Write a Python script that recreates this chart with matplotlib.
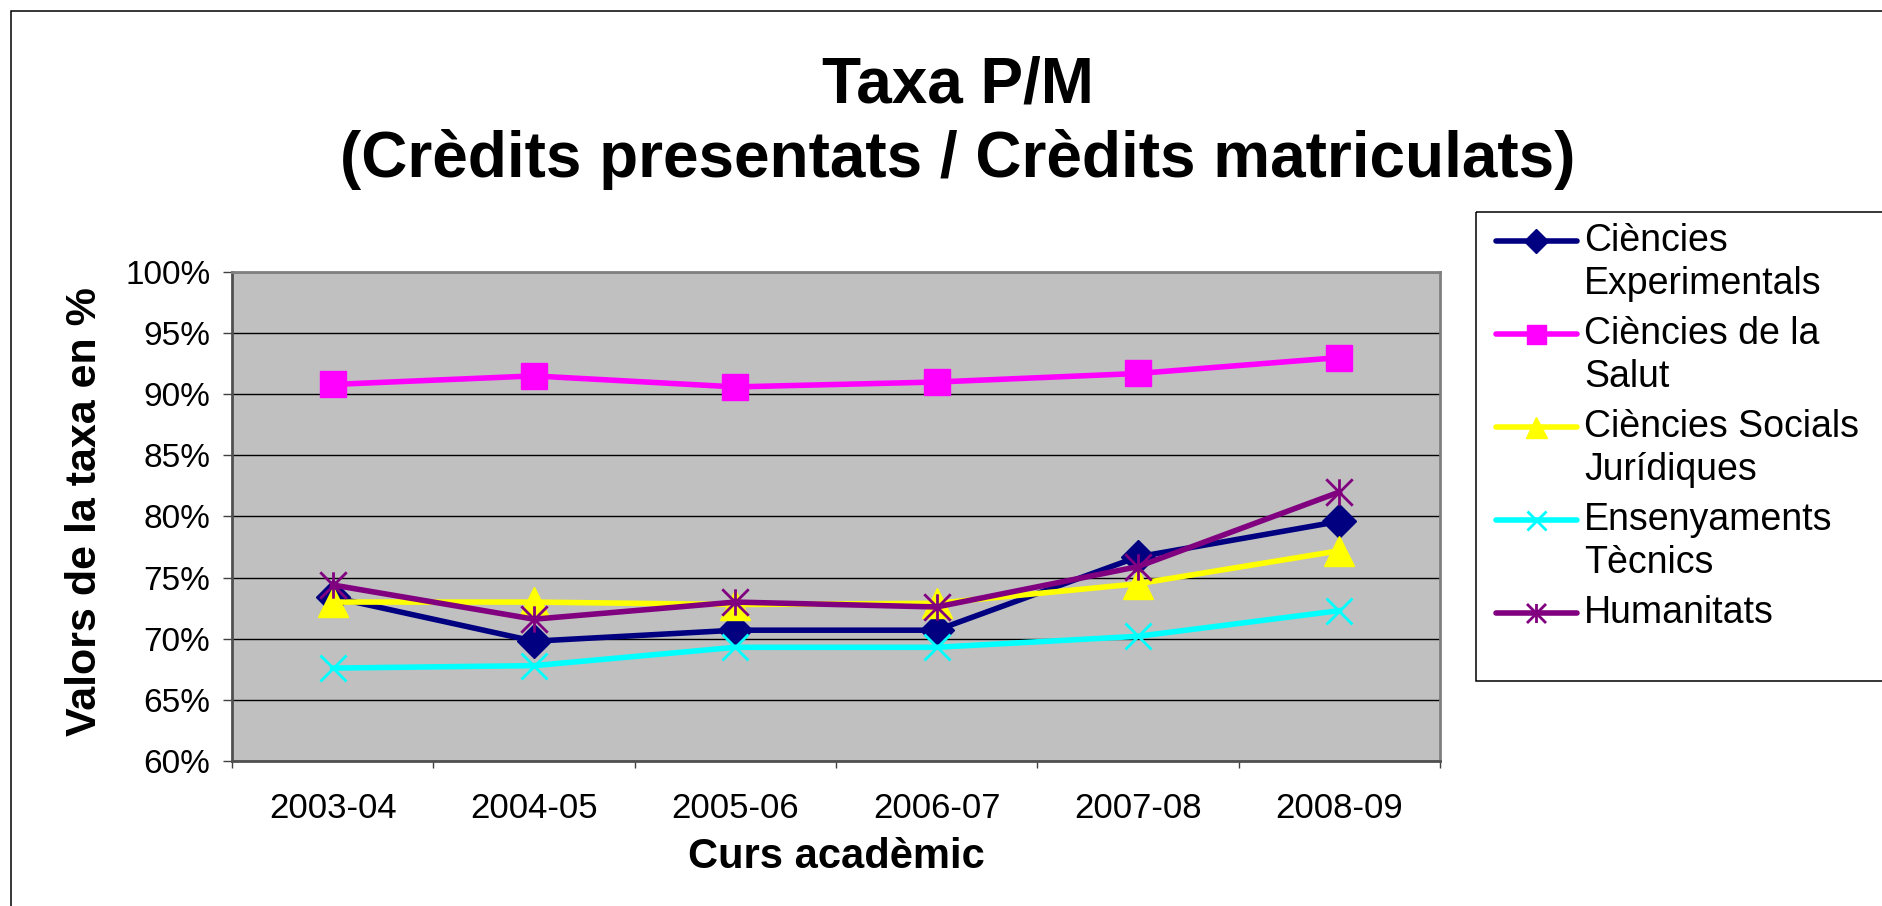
import matplotlib
matplotlib.use("Agg")
import matplotlib.pyplot as plt
from matplotlib.path import Path
from matplotlib.patches import Rectangle
from matplotlib.ticker import FuncFormatter, FixedLocator

plt.rcParams['font.family'] = ['Liberation Sans', 'DejaVu Sans']

# dades
cursos = ['2003-04', '2004-05', '2005-06', '2006-07', '2007-08', '2008-09']
experimentals = [73.4, 69.8, 70.7, 70.7, 76.7, 79.6]
salut = [90.8, 91.5, 90.6, 91.0, 91.7, 93.0]
socials = [73.0, 73.0, 72.8, 72.9, 74.5, 77.2]
tecnics = [67.6, 67.8, 69.3, 69.3, 70.2, 72.3]
humanitats = [74.4, 71.6, 73.0, 72.6, 75.9, 82.0]

noms = ['Ciències\nExperimentals', 'Ciències de la\nSalut', 'Ciències Socials\nJurídiques',
        'Ensenyaments\nTècnics', 'Humanitats']

# asterisc tipus Excel: X + linia vertical
asterisc = Path([(-1, -1), (1, 1), (-1, 1), (1, -1), (0, -1), (0, 1)],
                [Path.MOVETO, Path.LINETO, Path.MOVETO, Path.LINETO, Path.MOVETO, Path.LINETO])

estils = [
    dict(color='#000080', marker='D', ms=17),
    dict(color='#FF00FF', marker='s', ms=19),
    dict(color='#FFFF00', marker='^', ms=21),
    dict(color='#00FFFF', marker='x', ms=19, mew=2),
    dict(color='#800080', marker=asterisc, ms=19, mew=2),
]
series = [experimentals, salut, socials, tecnics, humanitats]

W, H = 1883, 906
fig = plt.figure(figsize=(W / 100, H / 100), dpi=100)

# marc exterior
fig.add_artist(Rectangle((11 / W, -0.1), 2, (H - 11) / H + 0.1, transform=fig.transFigure,
                         fill=False, lw=1.1, ec='black'))

ax = fig.add_axes([232 / W, (H - 761) / H, 1208 / W, 489 / H])
ax.set_facecolor('#C0C0C0')

x = list(range(len(cursos)))
for vals, st in zip(series, estils):
    ax.plot(x, vals, lw=4, **st)

ax.set_xlim(-0.5, len(cursos) - 0.5)
ax.set_ylim(60, 100)
ax.set_yticks(range(60, 101, 5))
ax.yaxis.set_major_formatter(FuncFormatter(lambda v, p: f"{v:.0f}%"))
ax.grid(axis='y', color='black', lw=1.0)
ax.set_axisbelow(True)

ax.set_xticks(x)
ax.set_xticklabels(cursos)
ax.xaxis.set_minor_locator(FixedLocator([i - 0.5 for i in range(len(cursos) + 1)]))
ax.tick_params(axis='x', which='major', length=0, pad=22, labelsize=25)
ax.tick_params(axis='x', which='minor', length=5, width=1, color='#404040')
ax.tick_params(axis='y', length=6.5, width=1, pad=9, labelsize=24, color='#404040')

for s in ax.spines.values():
    s.set_color('#808080')
    s.set_linewidth(2)
ax.spines['left'].set_color('#505050')
ax.spines['bottom'].set_color('#505050')

# titols
fig.text(958 / W, 1 - 85 / H, 'Taxa P/M', ha='center', va='center', fontsize=46, fontweight='bold')
fig.text(958 / W, 1 - 159 / H, '(Crèdits presentats / Crèdits matriculats)', ha='center', va='center',
         fontsize=46, fontweight='bold')
fig.text(836 / W, 1 - 857 / H, 'Curs acadèmic', ha='center', va='center', fontsize=30, fontweight='bold')
fig.text(85 / W, 1 - 512 / H, 'Valors de la taxa en %', ha='center', va='center', rotation=90,
         fontsize=31, fontweight='bold')

# llegenda
lg = fig.add_axes([0, 0, 1, 1], facecolor='none')
lg.set_xlim(0, W)
lg.set_ylim(H, 0)
lg.axis('off')
lg.add_patch(Rectangle((1476, 212), 500, 469, fill=False, lw=1.1, ec='black'))
y = 241
for nom, st in zip(noms, estils):
    lg.plot([1496, 1577], [y, y], lw=4, color=st['color'], solid_capstyle='round')
    lg.plot([1536], [y], ls='none', **{k: v for k, v in st.items() if k != 'ms'},
            ms=st['ms'] * 0.72)
    linies = nom.split('\n')
    for i, t in enumerate(linies):
        lg.text(1584, y + i * 43, t, ha='left', va='center', fontsize=27)
    y += 93

fig.savefig('out.png', dpi=100)
